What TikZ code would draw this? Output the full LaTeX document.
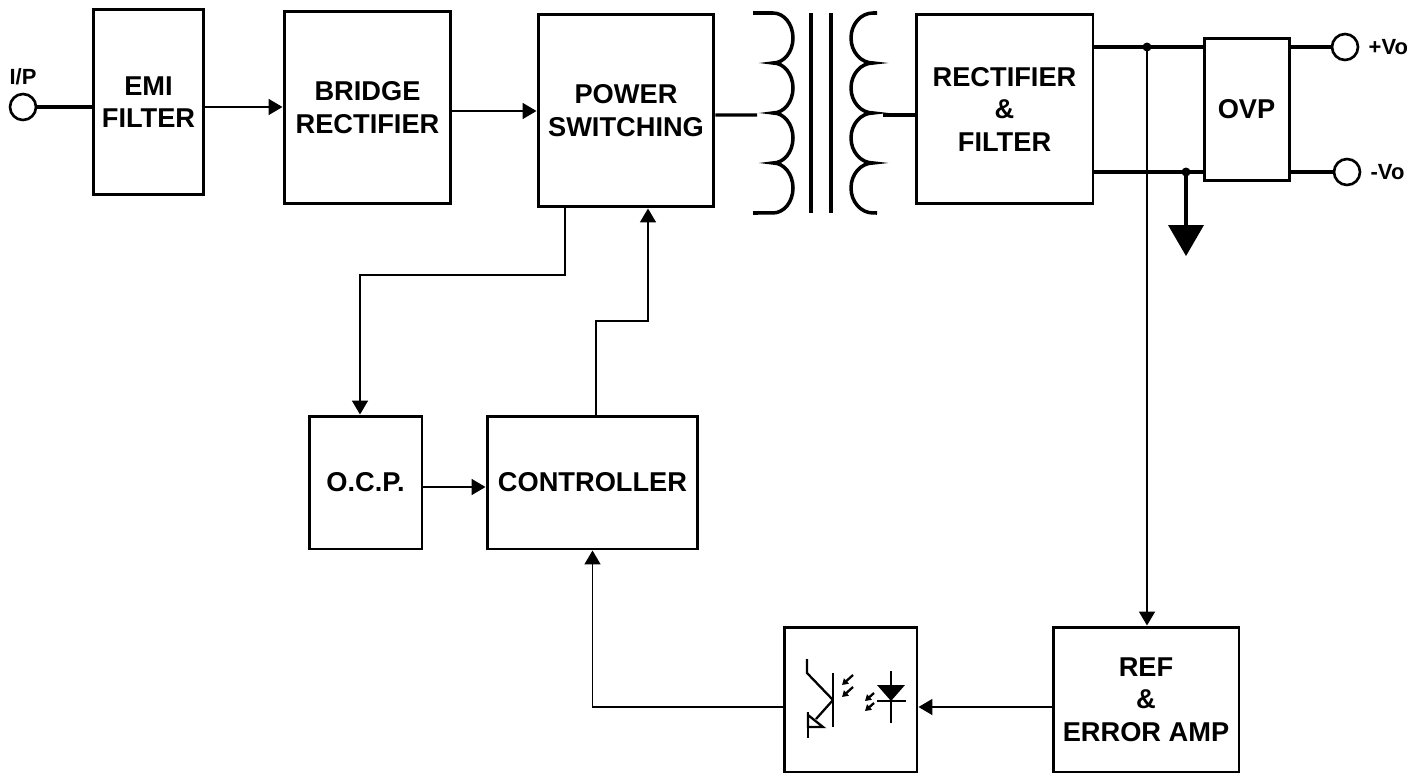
\documentclass[tikz,border=0pt]{standalone}
\usepackage{fontspec}
\setmainfont{Liberation Sans}
\usetikzlibrary{positioning,arrows.meta}

\begin{document}
\begin{tikzpicture}[x=0.02cm,y=-0.02cm,
    blocco/.style={draw, rectangle, line width=1.7pt, inner sep=0pt, align=center,
        font=\fontsize{15.5}{18.5}\selectfont\bfseries},
    arr/.style={line width=1pt, -{Triangle[length=0.28cm,width=0.32cm]}},
    spesso/.style={line width=1.8pt},
    bobina/.style={line width=2pt},
    sottile/.style={line width=1.3pt},
    luce/.style={line width=1.3pt, -{Triangle[length=0.12cm,width=0.14cm]}},
    morsetto/.style={draw, circle, line width=1.5pt, minimum size=0.52cm, inner sep=0pt},
    etichetta/.style={inner sep=0pt, font=\fontsize{12.5}{15}\selectfont\bfseries}]

    \useasboundingbox (0,0) rectangle (1423,774);

    %blocchi
    \node[blocco, minimum width=2.22cm, minimum height=3.72cm] (emi) at (148.5,102) {EMI\\FILTER};
    \node[blocco, minimum width=3.34cm, minimum height=3.86cm] (bridge) at (367.5,107.5) {BRIDGE\\RECTIFIER};
    \node[blocco, minimum width=3.52cm, minimum height=3.86cm] (power) at (626,110.5) {POWER\\SWITCHING};
    \node[blocco, minimum width=3.54cm, minimum height=3.80cm] (rect) at (1004.5,109) {RECTIFIER\\\&\\FILTER};
    \node[blocco, minimum width=1.70cm, minimum height=2.86cm] (ovp) at (1246.5,109.5) {OVP};
    \node[blocco, minimum width=2.26cm, minimum height=2.66cm] (ocp) at (365.5,482.5) {O.C.P.};
    \node[blocco, minimum width=4.22cm, minimum height=2.66cm] (ctrl) at (592.5,482.5) {CONTROLLER};
    \node[blocco, minimum width=2.66cm, minimum height=2.90cm] (opto) at (850.5,699.5) {};
    \node[blocco, minimum width=3.72cm, minimum height=2.90cm] (ref) at (1146,699.5) {REF\\\&\\ERROR AMP};

    %morsetti
    \node[morsetto] (ip) at (23,107) {};
    \node[etichetta, above=0.15cm of ip] {I/P};
    \node[morsetto] (pvo) at (1345,47) {};
    \node[etichetta, right=0.18cm of pvo] {+Vo};
    \node[morsetto] (nvo) at (1347,172) {};
    \node[etichetta, right=0.18cm of nvo] {-Vo};

    %catena principale
    \draw[spesso] (ip.east) -- (ip.east -| emi.west);
    \draw[arr] ([yshift=-0.1cm]emi.east) -- ([yshift=-0.1cm]emi.east -| bridge.west);
    \draw[arr] ([yshift=-0.07cm]bridge.east) -- ([yshift=-0.07cm]bridge.east -| power.west);

    %trasformatore
    \coordinate (pri) at (757,115);
    \coordinate (sec) at (883,115);
    \draw[spesso] ([yshift=-0.09cm]power.east) -- (pri);
    \draw[spesso] (sec) -- (sec -| rect.west);
    \draw[bobina] (753,13) -- (773,13)
        arc[start angle=90, end angle=-90, x radius=0.4cm, y radius=0.5cm]
        arc[start angle=90, end angle=-90, x radius=0.4cm, y radius=0.5cm]
        arc[start angle=90, end angle=-90, x radius=0.4cm, y radius=0.5cm]
        arc[start angle=90, end angle=-90, x radius=0.4cm, y radius=0.5cm] -- (753,213);
    \draw[bobina] (811,13) -- (811,213);
    \draw[bobina] (831,13) -- (831,213);
    \draw[bobina] (877,13) -- (873,13)
        arc[start angle=90, end angle=270, x radius=0.44cm, y radius=0.5cm]
        arc[start angle=90, end angle=270, x radius=0.44cm, y radius=0.5cm]
        arc[start angle=90, end angle=270, x radius=0.44cm, y radius=0.5cm]
        arc[start angle=90, end angle=270, x radius=0.44cm, y radius=0.5cm] -- (877,213);

    %uscite
    \coordinate (vp) at (1147,47);
    \coordinate (vn) at (1186,172);
    \draw[spesso] (rect.east |- vp) -- (ovp.west |- vp);
    \draw[spesso] (rect.east |- vn) -- (ovp.west |- vn);
    \draw[spesso] (ovp.east |- vp) -- (pvo.west);
    \draw[spesso] (ovp.east |- vn) -- (nvo.west);
    \fill (vp) circle (0.09cm);
    \fill (vn) circle (0.09cm);

    %massa
    \coordinate (gnd) at (1186,225);
    \draw[spesso] (vn) -- (gnd);
    \fill ([xshift=-0.36cm]gnd) -- ([xshift=0.36cm]gnd) -- ([yshift=-0.62cm]gnd) -- cycle;

    %anello di controllo
    \coordinate (ocpgiro) at (565,275);
    \coordinate (ctrlgiro) at (648,321);
    \draw[arr] (power.south -| ocpgiro) -- (ocpgiro) -| ([xshift=-0.11cm]ocp.north);
    \draw[arr] ([xshift=0.07cm]ctrl.north) |- (ctrlgiro) -- (ctrlgiro |- power.south);
    \draw[arr] ([yshift=-0.09cm]ocp.east) -- ([yshift=-0.09cm]ocp.east -| ctrl.west);
    \draw[arr] (vp) -- (vp |- ref.north);
    \draw[arr] ([yshift=-0.15cm]ref.west) -- ([yshift=-0.15cm]ref.west -| opto.east);
    \draw[arr] ([yshift=-0.15cm]opto.west) -| (ctrl.south);

    %fotoaccoppiatore
    \draw[sottile] (833,673) -- (833,727);
    \draw[sottile] (807,659) -- (807,673) -- (833,700);
    \draw[sottile] (833,700) -- (816,719);
    \draw[sottile] (808,715) -- (823,727) -- (808,727) -- cycle;
    \draw[sottile] (808,712) -- (808,738);
    \draw[luce] (853,675) -- (842,685);
    \draw[luce] (853,687) -- (842,697);
    \draw[luce] (874,693) -- (865,701);
    \draw[luce] (874,703) -- (865,711);
    \draw[sottile] (891,671) -- (891,723);
    \fill (877,685) -- (905,685) -- (891,701) -- cycle;
    \draw[sottile] (877,701) -- (906,701);

\end{tikzpicture}
\end{document}
